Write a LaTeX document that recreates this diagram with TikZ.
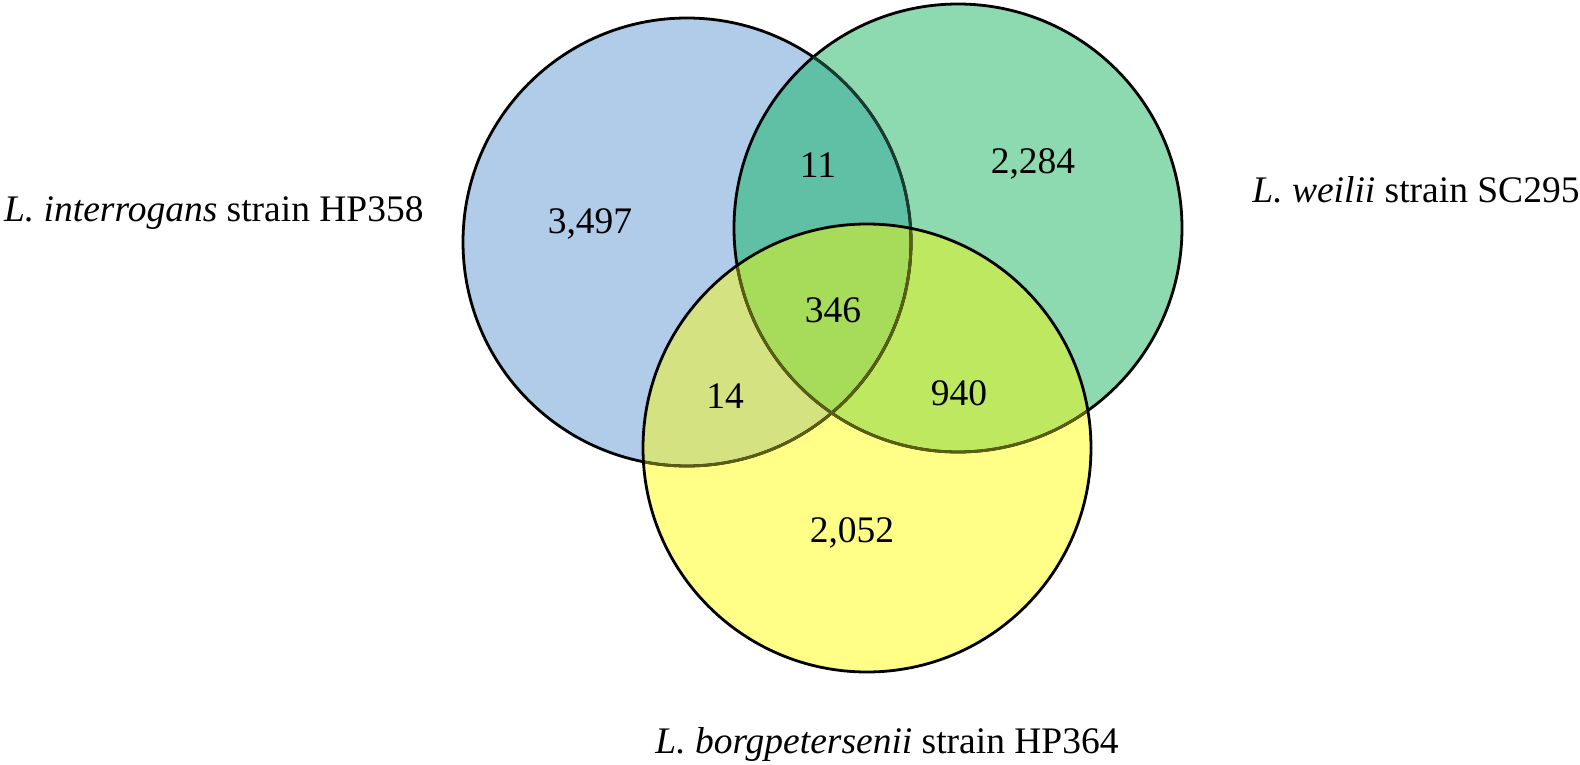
\documentclass[tikz,border=0pt]{standalone}
\usepackage{fontspec}
\setmainfont{Liberation Serif}
\definecolor{cblue}{HTML}{B0CCE8}
\definecolor{cgreen}{HTML}{8DD9B0}
\definecolor{cyellow}{HTML}{FFFF88}
\definecolor{cbg}{HTML}{5FC0A5}
\definecolor{cby}{HTML}{D4E282}
\definecolor{cgy}{HTML}{BEE860}
\definecolor{call}{HTML}{A7DC5A}
\definecolor{olivel}{HTML}{5A5E10}
\definecolor{dgreenl}{HTML}{1C3A30}
\begin{document}
\begin{tikzpicture}[x=0.5pt,y=-0.5pt,
  lab/.style={inner sep=0pt, font=\fontsize{18.75}{22}\selectfont, anchor=base},
  edge/.style={line width=1.4pt}]
\useasboundingbox (0,0) rectangle (1580,765);
\def\vennR{112pt}
\coordinate (B) at (687,242);
\coordinate (G) at (958,228);
\coordinate (Y) at (867,448);
% fills
\fill[cblue] (B) circle[radius=\vennR];
\fill[cgreen] (G) circle[radius=\vennR];
\fill[cyellow] (Y) circle[radius=\vennR];
\begin{scope}
  \clip (B) circle[radius=\vennR];
  \fill[cbg] (G) circle[radius=\vennR];
  \fill[cby] (Y) circle[radius=\vennR];
\end{scope}
\begin{scope}
  \clip (G) circle[radius=\vennR];
  \fill[cgy] (Y) circle[radius=\vennR];
  \clip (B) circle[radius=\vennR];
  \fill[call] (Y) circle[radius=\vennR];
\end{scope}
% outlines
\draw[edge] (B) circle[radius=\vennR];
\draw[edge] (G) circle[radius=\vennR];
\begin{scope}
  \clip (G) circle[radius=\vennR];
  \draw[edge, dgreenl] (B) circle[radius=\vennR];
\end{scope}
\begin{scope}
  \clip (Y) circle[radius=\vennR];
  \draw[edge, olivel] (B) circle[radius=\vennR];
  \draw[edge, olivel] (G) circle[radius=\vennR];
\end{scope}
\draw[edge] (Y) circle[radius=\vennR];
% numbers
\node[lab] (n3497) at (590,233) {3,497};
\node[lab] (n11) at (818,177) {11};
\node[lab] (n2284) at (1033,173) {2,284};
\node[lab] (n346) at (833,322) {346};
\node[lab] (n14) at (725,408) {14};
\node[lab] (n940) at (959,405) {940};
\node[lab] (n2052) at (852,542) {2,052};
% labels
\node[lab, anchor=base east] (li) at (424,221) {\textit{L. interrogans} strain HP358};
\node[lab, anchor=base west] (lw) at (1252,202) {\textit{L. weilii} strain SC295};
\node[lab] (lb) at (887,753) {\textit{L. borgpetersenii} strain HP364};
\end{tikzpicture}
\end{document}
